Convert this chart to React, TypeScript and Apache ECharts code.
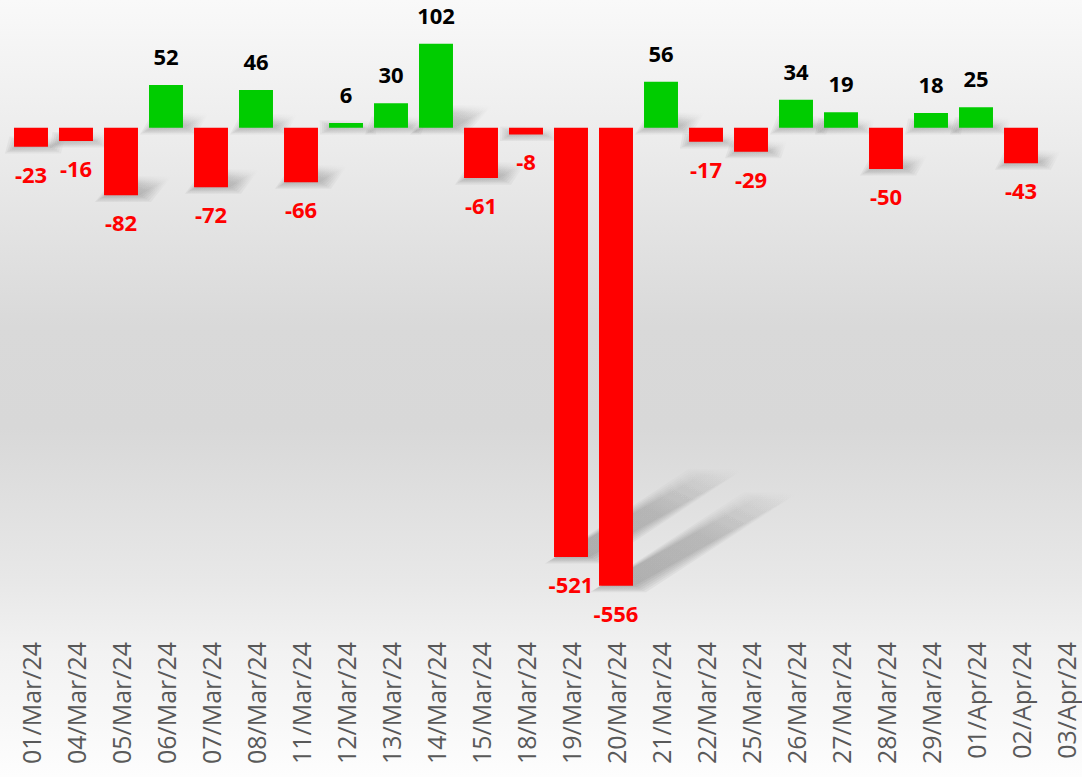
import React, { useEffect, useRef } from "react";
import * as echarts from "echarts";

const categories = [
  "01/Mar/24", "04/Mar/24", "05/Mar/24", "06/Mar/24", "07/Mar/24", "08/Mar/24",
  "11/Mar/24", "12/Mar/24", "13/Mar/24", "14/Mar/24", "15/Mar/24", "18/Mar/24",
  "19/Mar/24", "20/Mar/24", "21/Mar/24", "22/Mar/24", "25/Mar/24", "26/Mar/24",
  "27/Mar/24", "28/Mar/24", "29/Mar/24", "01/Apr/24", "02/Apr/24", "03/Apr/24",
];

const values: (number | null)[] = [
  -23, -16, -82, 52, -72, 46, -66, 6, 30, 102, -61, -8,
  -521, -556, 56, -17, -29, 34, 19, -50, 18, 25, -43, null,
];

const POS_COLOR = "#00cc00";
const NEG_COLOR = "#ff0000";
const FONT = "'Open Sans', 'Noto Sans', sans-serif";

export default function App() {
  const ref = useRef<HTMLDivElement>(null);

  useEffect(() => {
    if (!ref.current) return;
    const chart = echarts.init(ref.current, undefined, { renderer: "svg" });

    const barData = values.map((v) => {
      if (v == null) return { value: null };
      const neg = v < 0;
      return {
        value: v,
        itemStyle: { color: neg ? NEG_COLOR : POS_COLOR },
        label: {
          show: true,
          position: neg ? "bottom" : "top",
          distance: neg ? 16 : 18,
          color: neg ? NEG_COLOR : "#000000",
          fontWeight: "bold",
          fontSize: 22,
          fontFamily: FONT,
          formatter: String(v),
        },
      };
    });

    const shadowData = values.map((v, i) => [i, v == null ? NaN : v]);

    chart.setOption({
      animation: false,
      grid: { left: 8.5, top: 29, width: 1080, height: 593, containLabel: false },
      xAxis: {
        type: "category",
        data: categories,
        axisLine: { show: false, onZero: false },
        axisTick: { show: false },
        splitLine: { show: false },
        axisLabel: {
          interval: 0,
          rotate: 90,
          margin: 20,
          color: "#595959",
          fontSize: 25,
          fontFamily: FONT,
        },
      },
      yAxis: {
        type: "value",
        min: -600,
        max: 120,
        show: false,
        splitLine: { show: false },
      },
      series: [
        {
          type: "custom",
          z: 1,
          silent: true,
          data: shadowData,
          renderItem: (params: any, api: any) => {
            const idx = api.value(0);
            const v = api.value(1);
            if (v == null || isNaN(v)) return null;
            const p0 = api.coord([idx, 0]);
            const p1 = api.coord([idx, v]);
            const w = api.size([1, 0])[0] * 0.755;
            const h = Math.abs(p1[1] - p0[1]);
            const baseY = v < 0 ? p1[1] : p0[1];
            const dx = h * 0.34;
            const dy = -h * 0.19;
            const x0 = p0[0] - w / 2;
            const x1 = p0[0] + w / 2;
            const children = [];
            for (let j = 0; j < 6; j++) {
              const e = j * 2.2;
              children.push({
                type: "polygon",
                shape: {
                  points: [
                    [x0 + 2 - e, baseY + e * 0.6],
                    [x1 + 2 + e, baseY + e * 0.6],
                    [x1 + dx + e, baseY + dy - e * 0.6],
                    [x0 + dx - e, baseY + dy - e * 0.6],
                  ],
                },
                style: {
                  fill: new echarts.graphic.LinearGradient(0, 1, 1, 0, [
                    { offset: 0, color: "rgba(0,0,0,0.05)" },
                    { offset: 0.55, color: "rgba(0,0,0,0.035)" },
                    { offset: 1, color: "rgba(0,0,0,0)" },
                  ]),
                },
              });
            }
            return { type: "group", children };
          },
        },
        {
          type: "bar",
          z: 2,
          data: barData,
          barCategoryGap: "24.5%",
        },
      ],
    });

    return () => chart.dispose();
  }, []);

  return (
    <div
      style={{
        position: "fixed",
        left: 0,
        top: 0,
        width: 1082,
        height: 777,
        overflow: "hidden",
        background:
          "linear-gradient(to bottom, #f9f9f9 0%, #ececec 18%, #d9d9d9 42%, #d8d8d8 55%, #e8e8e8 75%, #f2f2f2 84%, #fdfdfd 100%)",
      }}
    >
      <div ref={ref} style={{ width: 1090, height: 777 }} />
    </div>
  );
}
